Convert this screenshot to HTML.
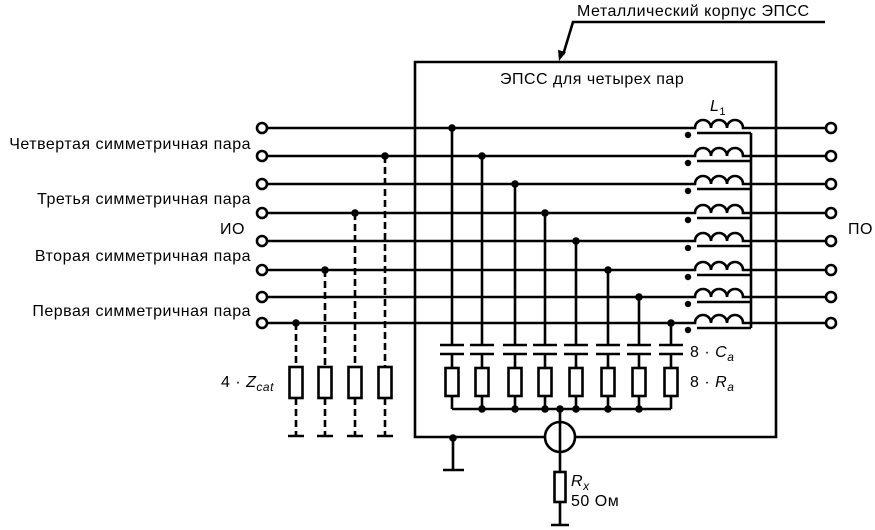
<!DOCTYPE html>
<html><head><meta charset="utf-8"><style>
html,body{margin:0;padding:0;background:#fff}
svg{display:block}
text{font-family:"Liberation Sans",sans-serif;fill:#000;letter-spacing:0.5px}
</style></head><body>
<svg width="875" height="530" viewBox="0 0 875 530" xmlns="http://www.w3.org/2000/svg">
<g stroke="#000" stroke-width="2.6" fill="none">
<path d="M545 437 H415 V62 H776 V437 H575"/>
<path d="M268 128 H695 a8 8 0 0 1 16 0 a8 8 0 0 1 16 0 a8 8 0 0 1 16 0 H825"/>
<path d="M268 156 H695 a8 8 0 0 1 16 0 a8 8 0 0 1 16 0 a8 8 0 0 1 16 0 H825"/>
<path d="M268 184 H695 a8 8 0 0 1 16 0 a8 8 0 0 1 16 0 a8 8 0 0 1 16 0 H825"/>
<path d="M268 213 H695 a8 8 0 0 1 16 0 a8 8 0 0 1 16 0 a8 8 0 0 1 16 0 H825"/>
<path d="M268 241 H695 a8 8 0 0 1 16 0 a8 8 0 0 1 16 0 a8 8 0 0 1 16 0 H825"/>
<path d="M268 270 H695 a8 8 0 0 1 16 0 a8 8 0 0 1 16 0 a8 8 0 0 1 16 0 H825"/>
<path d="M268 297 H695 a8 8 0 0 1 16 0 a8 8 0 0 1 16 0 a8 8 0 0 1 16 0 H825"/>
<path d="M268 323 H695 a8 8 0 0 1 16 0 a8 8 0 0 1 16 0 a8 8 0 0 1 16 0 H825"/>
<path d="M697 133 H751 M697 161 H751 M697 189 H751 M697 218 H751 M697 246 H751 M697 275 H751 M697 302 H751 M697 328 H751 M751 133 V328"/>
<g stroke-width="2.6">
<circle cx="262" cy="128" r="5"/><circle cx="262" cy="156" r="5"/><circle cx="262" cy="184" r="5"/><circle cx="262" cy="213" r="5"/>
<circle cx="262" cy="241" r="5"/><circle cx="262" cy="270" r="5"/><circle cx="262" cy="297" r="5"/><circle cx="262" cy="323" r="5"/>
<circle cx="831" cy="128" r="5"/><circle cx="831" cy="156" r="5"/><circle cx="831" cy="184" r="5"/><circle cx="831" cy="213" r="5"/>
<circle cx="831" cy="241" r="5"/><circle cx="831" cy="270" r="5"/><circle cx="831" cy="297" r="5"/><circle cx="831" cy="323" r="5"/>
</g>
<path d="M452 128 V345 M482 156 V345 M515 184 V345 M545 213 V345 M576 241 V345 M608 270 V345 M639 297 V345 M671 323 V345"/>
<path d="M440 345 H464 M440 354 H464 M470 345 H494 M470 354 H494 M503 345 H527 M503 354 H527 M533 345 H557 M533 354 H557 M564 345 H588 M564 354 H588 M596 345 H620 M596 354 H620 M627 345 H651 M627 354 H651 M659 345 H683 M659 354 H683"/>
<path d="M452 354 V368 M482 354 V368 M515 354 V368 M545 354 V368 M576 354 V368 M608 354 V368 M639 354 V368 M671 354 V368"/>
<rect x="445.5" y="368" width="13" height="28"/><rect x="475.5" y="368" width="13" height="28"/><rect x="508.5" y="368" width="13" height="28"/><rect x="538.5" y="368" width="13" height="28"/>
<rect x="569.5" y="368" width="13" height="28"/><rect x="601.5" y="368" width="13" height="28"/><rect x="632.5" y="368" width="13" height="28"/><rect x="664.5" y="368" width="13" height="28"/>
<path d="M452 396 V409 M482 396 V409 M515 396 V409 M545 396 V409 M576 396 V409 M608 396 V409 M639 396 V409 M671 396 V409 M452 409 H671"/>
<circle cx="560" cy="437" r="15"/>
<path d="M560 409 V472 M560 502 V525 M551 525 H569"/>
<rect x="554.5" y="472" width="11" height="30"/>
<path d="M453 437 V470 M443 470 H464"/>
<path stroke-dasharray="7,4" d="M385 156 V367 M355 213 V367 M325 270 V367 M296 323 V367 M385 398 V436 M355 398 V436 M325 398 V436 M296 398 V436"/>
<rect x="289.5" y="367" width="13" height="31"/><rect x="318.5" y="367" width="13" height="31"/><rect x="348.5" y="367" width="13" height="31"/><rect x="378.5" y="367" width="13" height="31"/>
<path d="M288 436 H304 M317 436 H333 M347 436 H363 M377 436 H393"/>
<path d="M825 22 H573 L563 55"/>
</g>
<path d="M559 61 L558 50 L566 52 Z" fill="#000"/>
<g fill="#000">
<circle cx="452" cy="128" r="3.8"/><circle cx="482" cy="156" r="3.8"/><circle cx="515" cy="184" r="3.8"/><circle cx="545" cy="213" r="3.8"/>
<circle cx="576" cy="241" r="3.8"/><circle cx="608" cy="270" r="3.8"/><circle cx="639" cy="297" r="3.8"/><circle cx="671" cy="323" r="3.8"/>
<circle cx="385" cy="156" r="3.8"/><circle cx="355" cy="213" r="3.8"/><circle cx="325" cy="270" r="3.8"/><circle cx="296" cy="323" r="3.8"/>
<circle cx="688" cy="135" r="3.2"/><circle cx="688" cy="163" r="3.2"/><circle cx="688" cy="191" r="3.2"/><circle cx="688" cy="220" r="3.2"/>
<circle cx="688" cy="248" r="3.2"/><circle cx="688" cy="277" r="3.2"/><circle cx="688" cy="304" r="3.2"/><circle cx="688" cy="330" r="3.2"/>
<circle cx="482" cy="409" r="3.8"/><circle cx="515" cy="409" r="3.8"/><circle cx="545" cy="409" r="3.8"/><circle cx="560" cy="409" r="3.8"/>
<circle cx="576" cy="409" r="3.8"/><circle cx="608" cy="409" r="3.8"/><circle cx="639" cy="409" r="3.8"/>
<circle cx="453" cy="438" r="3.8"/>
</g>
<g font-size="16">
<text x="577" y="16">Металлический корпус ЭПСС</text>
<text x="500" y="84">ЭПСС для четырех пар</text>
<text x="251" y="149" text-anchor="end">Четвертая симметричная пара</text>
<text x="251" y="204" text-anchor="end">Третья симметричная пара</text>
<text x="245" y="234" text-anchor="end">ИО</text>
<text x="251" y="261" text-anchor="end">Вторая симметричная пара</text>
<text x="251" y="316" text-anchor="end">Первая симметричная пара</text>
<text x="848" y="234">ПО</text>
<text x="710" y="111" font-style="italic">L<tspan font-size="11" dy="4" font-style="normal">1</tspan></text>
<text x="690" y="357">8 · <tspan font-style="italic">C</tspan><tspan font-style="italic" font-size="12" dy="4">a</tspan></text>
<text x="690" y="387">8 · <tspan font-style="italic">R</tspan><tspan font-style="italic" font-size="12" dy="4">a</tspan></text>
<text x="221" y="387">4 · <tspan font-style="italic">Z</tspan><tspan font-style="italic" font-size="12" dy="4">cat</tspan></text>
<text x="571" y="486" font-style="italic">R<tspan font-size="12" dy="4">x</tspan></text>
<text x="571" y="506">50 Ом</text>
</g>
</svg>
</body></html>
